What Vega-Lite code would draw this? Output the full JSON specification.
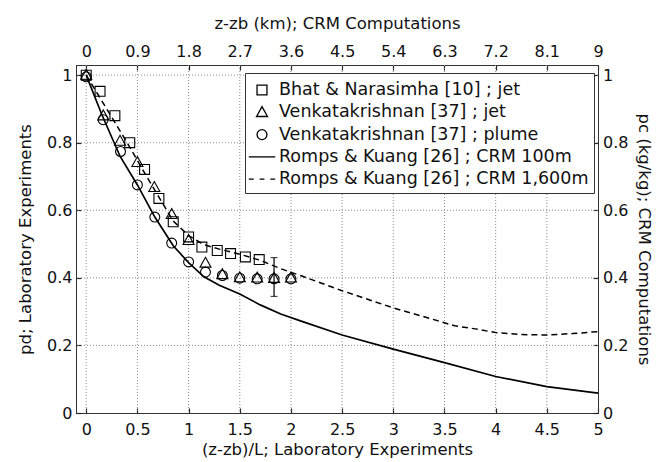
{
  "$schema": "https://vega.github.io/schema/vega-lite/v6.json",
  "width": 522,
  "height": 348,
  "autosize": {"type": "none"},
  "padding": {"left": 76, "top": 65, "right": 66, "bottom": 49},
  "background": "white",
  "config": {
    "font": "DejaVu Sans",
    "view": {"stroke": "#333", "strokeWidth": 1},
    "axis": {
      "labelFont": "DejaVu Sans", "labelFontSize": 16, "labelColor": "#111",
      "titleFont": "DejaVu Sans", "titleFontSize": 16.5, "titleFontWeight": "normal", "titleColor": "#111",
      "domainColor": "#333", "tickColor": "#222", "tickWidth": 1.2,
      "labelFlush": false, "labelOverlap": false
    }
  },
  "datasets": {
    "xgrid": [{"x": 0}, {"x": 0.5}, {"x": 1}, {"x": 1.5}, {"x": 2}, {"x": 2.5}, {"x": 3}, {"x": 3.5}, {"x": 4}, {"x": 4.5}],
    "ygrid": [{"y": 0.2}, {"y": 0.4}, {"y": 0.6}, {"y": 0.8}, {"y": 1.0}],
    "solid": [
      {"x": 0, "y": 1.0}, {"x": 0.15, "y": 0.885}, {"x": 0.33, "y": 0.76}, {"x": 0.5, "y": 0.675},
      {"x": 0.67, "y": 0.58}, {"x": 0.85, "y": 0.495}, {"x": 1.0, "y": 0.445}, {"x": 1.15, "y": 0.403},
      {"x": 1.3, "y": 0.378}, {"x": 1.5, "y": 0.352}, {"x": 1.7, "y": 0.32}, {"x": 1.9, "y": 0.293},
      {"x": 2.1, "y": 0.272}, {"x": 2.5, "y": 0.231}, {"x": 3.0, "y": 0.189}, {"x": 3.5, "y": 0.149},
      {"x": 4.0, "y": 0.108}, {"x": 4.5, "y": 0.078}, {"x": 5.0, "y": 0.059}
    ],
    "dashed": [
      {"x": 0, "y": 1.0}, {"x": 0.2, "y": 0.9}, {"x": 0.4, "y": 0.8}, {"x": 0.6, "y": 0.695},
      {"x": 0.85, "y": 0.568}, {"x": 1.0, "y": 0.525}, {"x": 1.15, "y": 0.498}, {"x": 1.3, "y": 0.485},
      {"x": 1.5, "y": 0.47}, {"x": 1.7, "y": 0.452}, {"x": 1.9, "y": 0.427}, {"x": 2.1, "y": 0.406},
      {"x": 2.5, "y": 0.362}, {"x": 3.0, "y": 0.311}, {"x": 3.3, "y": 0.285}, {"x": 3.6, "y": 0.258},
      {"x": 3.8, "y": 0.249}, {"x": 4.0, "y": 0.238}, {"x": 4.25, "y": 0.232}, {"x": 4.5, "y": 0.231},
      {"x": 4.75, "y": 0.235}, {"x": 5.0, "y": 0.241}
    ],
    "points": [
      {"series": "Bhat & Narasimha [10] ; jet", "x": 0, "y": 1.0},
      {"series": "Bhat & Narasimha [10] ; jet", "x": 0.135, "y": 0.952},
      {"series": "Bhat & Narasimha [10] ; jet", "x": 0.28, "y": 0.88},
      {"series": "Bhat & Narasimha [10] ; jet", "x": 0.425, "y": 0.8},
      {"series": "Bhat & Narasimha [10] ; jet", "x": 0.57, "y": 0.721},
      {"series": "Bhat & Narasimha [10] ; jet", "x": 0.71, "y": 0.635},
      {"series": "Bhat & Narasimha [10] ; jet", "x": 0.85, "y": 0.566},
      {"series": "Bhat & Narasimha [10] ; jet", "x": 1.0, "y": 0.521},
      {"series": "Bhat & Narasimha [10] ; jet", "x": 1.13, "y": 0.491},
      {"series": "Bhat & Narasimha [10] ; jet", "x": 1.28, "y": 0.481},
      {"series": "Bhat & Narasimha [10] ; jet", "x": 1.41, "y": 0.472},
      {"series": "Bhat & Narasimha [10] ; jet", "x": 1.555, "y": 0.462},
      {"series": "Bhat & Narasimha [10] ; jet", "x": 1.69, "y": 0.454},
      {"series": "Venkatakrishnan [37] ; jet", "x": 0, "y": 1.0},
      {"series": "Venkatakrishnan [37] ; jet", "x": 0.167, "y": 0.88},
      {"series": "Venkatakrishnan [37] ; jet", "x": 0.33, "y": 0.805},
      {"series": "Venkatakrishnan [37] ; jet", "x": 0.5, "y": 0.742},
      {"series": "Venkatakrishnan [37] ; jet", "x": 0.665, "y": 0.668},
      {"series": "Venkatakrishnan [37] ; jet", "x": 0.835, "y": 0.588},
      {"series": "Venkatakrishnan [37] ; jet", "x": 1.0, "y": 0.511},
      {"series": "Venkatakrishnan [37] ; jet", "x": 1.165, "y": 0.444},
      {"series": "Venkatakrishnan [37] ; jet", "x": 1.33, "y": 0.41},
      {"series": "Venkatakrishnan [37] ; jet", "x": 1.5, "y": 0.401},
      {"series": "Venkatakrishnan [37] ; jet", "x": 1.67, "y": 0.4},
      {"series": "Venkatakrishnan [37] ; jet", "x": 1.835, "y": 0.399},
      {"series": "Venkatakrishnan [37] ; jet", "x": 2.0, "y": 0.4},
      {"series": "Venkatakrishnan [37] ; plume", "x": 0, "y": 0.995},
      {"series": "Venkatakrishnan [37] ; plume", "x": 0.165, "y": 0.868},
      {"series": "Venkatakrishnan [37] ; plume", "x": 0.335, "y": 0.774},
      {"series": "Venkatakrishnan [37] ; plume", "x": 0.5, "y": 0.675},
      {"series": "Venkatakrishnan [37] ; plume", "x": 0.67, "y": 0.58},
      {"series": "Venkatakrishnan [37] ; plume", "x": 0.835, "y": 0.503},
      {"series": "Venkatakrishnan [37] ; plume", "x": 1.0, "y": 0.447},
      {"series": "Venkatakrishnan [37] ; plume", "x": 1.165, "y": 0.417},
      {"series": "Venkatakrishnan [37] ; plume", "x": 1.33, "y": 0.407},
      {"series": "Venkatakrishnan [37] ; plume", "x": 1.5, "y": 0.399},
      {"series": "Venkatakrishnan [37] ; plume", "x": 1.67, "y": 0.397},
      {"series": "Venkatakrishnan [37] ; plume", "x": 1.835, "y": 0.397},
      {"series": "Venkatakrishnan [37] ; plume", "x": 2.0, "y": 0.397}
    ],
    "errbar": [{"x": 1.835, "y": 0.345, "y2": 0.46}],
    "frame": [{"x": 0, "y": 0}, {"x": 5, "y": 1}]
  },
  "layer": [
    {
      "data": {"name": "xgrid"},
      "mark": {"type": "rule", "color": "#8c8c8c", "strokeWidth": 1, "strokeDash": [1, 2]},
      "encoding": {
        "x": {"field": "x", "type": "quantitative", "scale": {"domain": [-0.1, 5], "nice": false, "zero": false}, "axis": null}
      }
    },
    {
      "data": {"name": "ygrid"},
      "mark": {"type": "rule", "color": "#8c8c8c", "strokeWidth": 1, "strokeDash": [1, 2]},
      "encoding": {
        "y": {"field": "y", "type": "quantitative", "scale": {"domain": [0, 1.03], "nice": false, "zero": false}, "axis": null}
      }
    },
    {
      "data": {"name": "solid"},
      "mark": {"type": "line", "color": "black", "strokeWidth": 1.7},
      "encoding": {
        "x": {
          "field": "x", "type": "quantitative",
          "scale": {"domain": [-0.1, 5], "nice": false, "zero": false},
          "axis": {
            "orient": "bottom", "values": [0, 0.5, 1, 1.5, 2, 2.5, 3, 3.5, 4, 4.5, 5],
            "format": ".1~f", "grid": false,
            "tickSize": -5, "labelPadding": 13,
            "title": "(z-zb)/L; Laboratory Experiments", "titlePadding": 4
          }
        },
        "y": {
          "field": "y", "type": "quantitative",
          "scale": {"domain": [0, 1.03], "nice": false, "zero": false},
          "axis": {
            "orient": "left", "values": [0, 0.2, 0.4, 0.6, 0.8, 1],
            "format": ".1~f", "grid": false,
            "tickSize": -5, "labelPadding": 9,
            "title": "pd; Laboratory Experiments", "titlePadding": 13
          }
        }
      }
    },
    {
      "data": {"name": "dashed"},
      "mark": {"type": "line", "color": "black", "strokeWidth": 1.5, "strokeDash": [6, 4]},
      "encoding": {
        "x": {"field": "x", "type": "quantitative", "scale": {"domain": [-0.1, 5], "nice": false, "zero": false}, "axis": null},
        "y": {"field": "y", "type": "quantitative", "scale": {"domain": [0, 1.03], "nice": false, "zero": false}, "axis": null}
      }
    },
    {
      "data": {"name": "errbar"},
      "mark": {"type": "errorbar", "color": "black", "thickness": 1.2, "ticks": {"size": 7, "thickness": 1.2}},
      "encoding": {
        "x": {"field": "x", "type": "quantitative", "scale": {"domain": [-0.1, 5], "nice": false, "zero": false}, "axis": null},
        "y": {"field": "y", "type": "quantitative", "scale": {"domain": [0, 1.03], "nice": false, "zero": false}, "axis": null},
        "y2": {"field": "y2"}
      }
    },
    {
      "data": {"name": "points"},
      "mark": {"type": "point", "filled": false, "color": "black", "strokeWidth": 1.1, "size": 484, "opacity": 1},
      "encoding": {
        "x": {"field": "x", "type": "quantitative", "scale": {"domain": [-0.1, 5], "nice": false, "zero": false}, "axis": null},
        "y": {"field": "y", "type": "quantitative", "scale": {"domain": [0, 1.03], "nice": false, "zero": false}, "axis": null},
        "shape": {
          "field": "series", "type": "nominal",
          "scale": {
            "domain": [
              "Bhat & Narasimha [10] ; jet",
              "Venkatakrishnan [37] ; jet",
              "Venkatakrishnan [37] ; plume",
              "Romps & Kuang [26] ; CRM 100m",
              "Romps & Kuang [26] ; CRM 1,600m"
            ],
            "range": [
              "M-0.45,-0.45H0.45V0.45H-0.45Z",
              "M0,-0.52L0.5,0.38L-0.5,0.38Z",
              "M0.45,0A0.45,0.45,0,1,1,-0.45,0A0.45,0.45,0,1,1,0.45,0Z",
              "M-1.2,0H1.2",
              "M-1.2,0H-0.75M-0.22,0H0.22M0.75,0H1.2"
            ]
          },
          "legend": {
            "title": null, "orient": "none", "legendX": 169, "legendY": 8,
            "labelFont": "DejaVu Sans", "labelFontSize": 17.5, "labelColor": "#111",
            "labelLimit": 500, "labelOffset": 5,
            "symbolSize": 484, "symbolStrokeWidth": 1.3, "symbolStrokeColor": "black",
            "symbolFillColor": "transparent",
            "fillColor": "white", "strokeColor": "#333", "padding": 5, "rowPadding": 1.3
          }
        }
      }
    },
    {
      "data": {"name": "frame"},
      "mark": {"type": "point", "opacity": 0},
      "encoding": {
        "x": {
          "field": "x", "type": "quantitative",
          "scale": {"domain": [-0.1, 5], "nice": false, "zero": false},
          "axis": {
            "orient": "top", "values": [0, 0.5, 1, 1.5, 2, 2.5, 3, 3.5, 4, 4.5, 5],
            "labelExpr": "format(datum.value * 1.8, '.1~f')",
            "grid": false, "tickSize": -5, "labelPadding": 11,
            "title": "z-zb (km); CRM Computations", "titlePadding": 12
          }
        },
        "y": {
          "field": "y", "type": "quantitative",
          "scale": {"domain": [0, 1.03], "nice": false, "zero": false},
          "axis": {
            "orient": "right", "values": [0, 0.2, 0.4, 0.6, 0.8, 1],
            "format": ".1~f", "grid": false, "tickSize": -5, "labelPadding": 9.5,
            "title": "pc (kg/kg); CRM Computations", "titlePadding": 8
          }
        }
      }
    }
  ],
  "resolve": {"axis": {"x": "independent", "y": "independent"}}
}
